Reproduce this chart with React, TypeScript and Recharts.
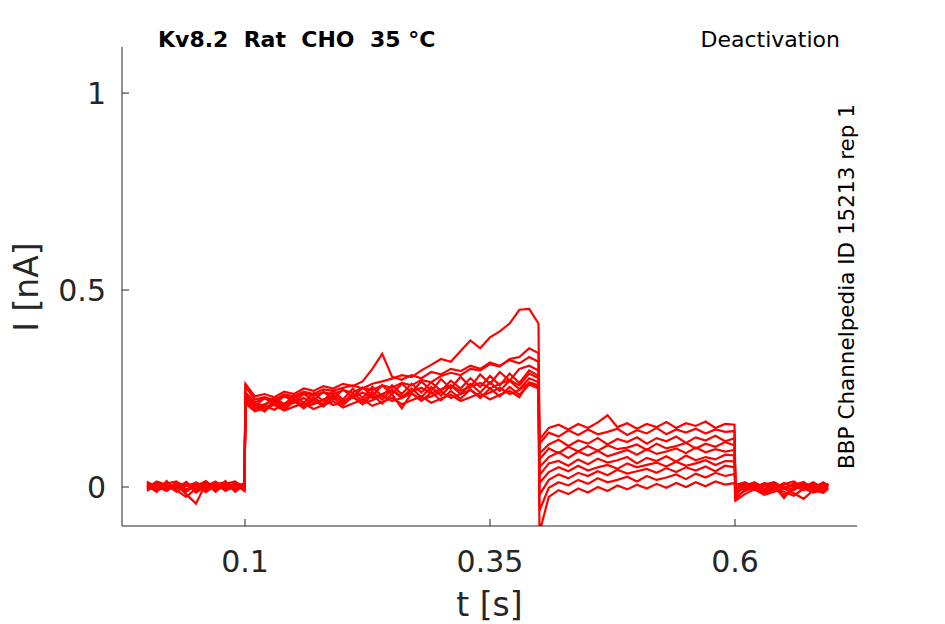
import React from 'react';
import { LineChart, Line, XAxis, YAxis } from 'recharts';

// sample times [s]: baseline, test step, tail step, return to holding
const TIME = [
  0, 0.01, 0.02, 0.03, 0.04, 0.05, 0.06, 0.07, 0.08, 0.09, 0.0995,
  0.1005, 0.11, 0.12, 0.13, 0.14, 0.15, 0.16, 0.17, 0.18, 0.19, 0.2,
  0.21, 0.22, 0.23, 0.24, 0.25, 0.26, 0.27, 0.28, 0.29, 0.3,
  0.31, 0.32, 0.33, 0.34, 0.35, 0.36, 0.37, 0.38, 0.39, 0.3995,
  0.4005, 0.41, 0.42, 0.43, 0.44, 0.45, 0.46, 0.47, 0.48, 0.49, 0.5,
  0.51, 0.52, 0.53, 0.54, 0.55, 0.56, 0.57, 0.58, 0.59, 0.5995,
  0.6005, 0.61, 0.62, 0.63, 0.64, 0.65, 0.66, 0.67, 0.68, 0.69, 0.695,
];

// currents in pA, one array per sweep
const SWEEP_1 = [
  5, -8, 12, -3, 6, -10, 4, 9, -6, 11, 3,
  255, 222, 228, 221, 235, 230, 242, 236, 248, 244, 252, 258, 250, 262, 268, 275, 284, 279, 296, 310,
  325, 318, 345, 372, 352, 380, 395, 415, 450, 452, 415,
  120, 150, 158, 146, 160, 150, 164, 182, 152, 162, 148, 160, 152, 165, 150, 162, 155, 166, 150, 160, 158,
  -5, 8, -3, 10, 2, -6, 9, 0, 12, -4, 6,
];
const SWEEP_2 = [
  -6, 10, -2, 8, -12, 5, -4, 7, 12, -5, 8,
  240, 215, 225, 218, 230, 226, 238, 232, 240, 236, 246, 240, 252, 246, 258, 252, 264, 258, 272, 266,
  282, 290, 284, 300, 296, 312, 306, 325, 330, 352, 340,
  110, 138, 128, 144, 132, 146, 134, 140, 148, 132, 144, 136, 150, 134, 146, 138, 148, 136, 146, 140, 142,
  -20, 3, 12, -5, 8, 1, -8, 11, -2, 7, 2,
];
const SWEEP_3 = [
  12, 2, -10, 6, -18, -42, 8, -3, 10, 2, -7,
  262, 230, 236, 228, 242, 236, 250, 244, 256, 250, 262, 256, 268, 300, 338, 280, 272, 284, 276, 292,
  286, 300, 294, 308, 300, 316, 308, 322, 314, 330, 318,
  85, 108, 120, 104, 118, 110, 124, 108, 122, 114, 126, 110, 124, 116, 128, 112, 126, 118, 130, 116, 124,
  -30, -8, 4, -12, -2, -20, -6, 3, -10, 0, -4,
];
const SWEEP_4 = [
  -2, 14, 5, -12, 3, 10, -8, 12, 0, 8, -10,
  235, 205, 226, 210, 232, 214, 236, 220, 242, 222, 248, 228, 252, 232, 258, 236, 262, 240, 268, 244,
  274, 250, 280, 254, 286, 262, 292, 270, 300, 308, 296,
  70, 98, 86, 102, 90, 104, 92, 106, 96, 100, 108, 94, 110, 98, 104, 112, 98, 110, 102, 114, 106,
  2, 10, -4, 6, 12, -3, 5, 13, -6, 9, 0,
];
const SWEEP_5 = [
  8, -4, 9, 14, -6, 2, 15, -5, 6, -9, 12,
  230, 212, 206, 228, 210, 232, 214, 238, 218, 244, 222, 250, 226, 254, 230, 258, 236, 262, 240, 266,
  244, 270, 250, 276, 254, 282, 258, 288, 264, 296, 282,
  50, 76, 88, 74, 90, 80, 92, 78, 86, 94, 82, 96, 84, 90, 98, 86, 100, 88, 96, 90, 94,
  -12, -4, 7, -10, 3, -28, 2, -8, 4, -12, 8,
];
const SWEEP_6 = [
  -10, 6, -6, 2, 10, -14, 2, 14, -10, 4, 0,
  228, 204, 210, 220, 206, 214, 226, 212, 222, 232, 218, 228, 240, 226, 236, 246, 230, 242, 252, 238,
  248, 258, 244, 254, 264, 250, 262, 272, 258, 288, 276,
  30, 60, 66, 54, 70, 58, 72, 62, 68, 76, 60, 74, 66, 78, 64, 80, 68, 76, 70, 82, 80,
  5, 12, 0, 9, -6, 7, 14, -2, 8, 3, -5,
];
const SWEEP_7 = [
  3, -12, 15, -8, -25, -4, 11, -12, 8, 14, -4,
  222, 212, 198, 218, 202, 224, 206, 228, 210, 234, 214, 238, 218, 242, 222, 246, 226, 250, 228, 254,
  232, 258, 236, 262, 240, 266, 244, 270, 248, 276, 266,
  10, 38, 50, 40, 54, 42, 50, 56, 46, 60, 50, 56, 62, 52, 64, 54, 60, 68, 56, 66, 65,
  -25, -10, -2, -15, -6, -12, -22, -4, -14, -6, -2,
];
const SWEEP_8 = [
  10, 0, -7, 11, 4, 7, -13, 4, -8, 0, 9,
  218, 198, 206, 196, 212, 218, 204, 210, 222, 208, 216, 228, 212, 220, 232, 218, 226, 238, 222, 230,
  242, 226, 236, 246, 230, 240, 252, 236, 246, 264, 255,
  -20, 18, 32, 22, 36, 28, 40, 30, 44, 34, 40, 46, 36, 48, 38, 50, 42, 52, 40, 54, 50,
  8, 0, 9, 2, 11, -1, 6, 10, -3, 12, 4,
];
const SWEEP_9 = [
  -4, 8, 3, -5, 13, -8, 6, -9, 15, -12, 5,
  215, 205, 192, 214, 196, 218, 200, 222, 204, 226, 208, 230, 210, 234, 212, 236, 200, 238, 218, 240,
  220, 244, 224, 248, 226, 250, 230, 254, 234, 260, 250,
  -60, -2, 12, 4, 18, 8, 22, 12, 18, 26, 14, 28, 18, 24, 32, 20, 34, 24, 36, 28, 33,
  -8, 6, -7, 4, -3, 10, -1, 7, 1, -2, 9,
];
const SWEEP_10 = [
  14, -9, 1, 5, -9, 12, -2, 1, -4, 6, -3,
  212, 192, 200, 208, 194, 204, 212, 198, 208, 218, 202, 212, 222, 206, 216, 226, 210, 220, 230, 214,
  224, 234, 218, 228, 238, 222, 234, 244, 228, 266, 258,
  -115, -25, -8, -18, -4, -14, 0, -10, 4, -6, 6, -4, 8, -2, 10, 0, 12, 2, 14, 6, 10,
  -35, -18, -6, -20, -12, -4, -16, -30, -8, -15, -5,
];

const SWEEPS = [SWEEP_1, SWEEP_2, SWEEP_3, SWEEP_4, SWEEP_5, SWEEP_6, SWEEP_7, SWEEP_8, SWEEP_9, SWEEP_10];

const X_TICKS = [0.1, 0.35, 0.6];
const Y_TICKS = [0, 0.5, 1];

const AXIS_COLOR = '#262626';
const FONT = '"DejaVu Sans", sans-serif';

const rows = TIME.map((t, i) => {
  const row: Record<string, number> = { t };
  SWEEPS.forEach((sweep, k) => {
    row[`s${k}`] = sweep[i] / 1000;
  });
  return row;
});

// ticks point into the plot, like the original figure
function XTick({ x, y, payload }: any) {
  return (
    <g>
      <line x1={x} x2={x} y1={y} y2={y - 7} stroke={AXIS_COLOR} strokeWidth={1} />
      <text x={x} y={y + 46} textAnchor="middle" fontSize={30} fill={AXIS_COLOR} fontFamily={FONT}>
        {payload.value}
      </text>
    </g>
  );
}

function YTick({ x, y, payload }: any) {
  return (
    <g>
      <line x1={x} x2={x + 7} y1={y} y2={y} stroke={AXIS_COLOR} strokeWidth={1} />
      <text x={x - 16} y={y + 11} textAnchor="end" fontSize={30} fill={AXIS_COLOR} fontFamily={FONT}>
        {payload.value}
      </text>
    </g>
  );
}

export default function App() {
  return (
    <div style={{ position: 'absolute', left: 0, top: 0, width: 945, height: 624, background: '#fff' }}>
      <LineChart
        width={945}
        height={624}
        data={rows}
        margin={{ top: 47, right: 88, left: 62, bottom: 68 }}
      >
        <XAxis
          dataKey="t"
          type="number"
          domain={[-0.0255, 0.7245]}
          ticks={X_TICKS}
          allowDataOverflow
          height={30}
          tickSize={0}
          tickMargin={0}
          tickLine={false}
          tick={<XTick />}
          stroke={AXIS_COLOR}
        />
        <YAxis
          type="number"
          domain={[-0.099, 1.117]}
          ticks={Y_TICKS}
          allowDataOverflow
          width={60}
          tickSize={0}
          tickMargin={0}
          tickLine={false}
          tick={<YTick />}
          stroke={AXIS_COLOR}
        />
        {SWEEPS.map((_, k) => (
          <Line
            key={k}
            dataKey={`s${k}`}
            type="linear"
            stroke="#ff0000"
            strokeWidth={2.2}
            dot={false}
            isAnimationActive={false}
          />
        ))}
      </LineChart>
      <svg width={945} height={624} style={{ position: 'absolute', left: 0, top: 0, pointerEvents: 'none' }}>
        <text x={158} y={47} fontSize={22} fontWeight="bold" fill="#000" fontFamily={FONT} xmlSpace="preserve">
          Kv8.2  Rat  CHO  35 °C
        </text>
        <text x={840} y={47} fontSize={22} textAnchor="end" fill="#000" fontFamily={FONT}>
          Deactivation
        </text>
        <text transform="translate(854,286.5) rotate(-90)" fontSize={21.5} textAnchor="middle" fill="#000" fontFamily={FONT}>
          BBP Channelpedia ID 15213 rep 1
        </text>
        <text transform="translate(38,287) rotate(-90)" fontSize={33} textAnchor="middle" fill={AXIS_COLOR} fontFamily={FONT}>
          I [nA]
        </text>
        <text x={489.5} y={616} fontSize={33} textAnchor="middle" fill={AXIS_COLOR} fontFamily={FONT}>
          t [s]
        </text>
      </svg>
    </div>
  );
}
